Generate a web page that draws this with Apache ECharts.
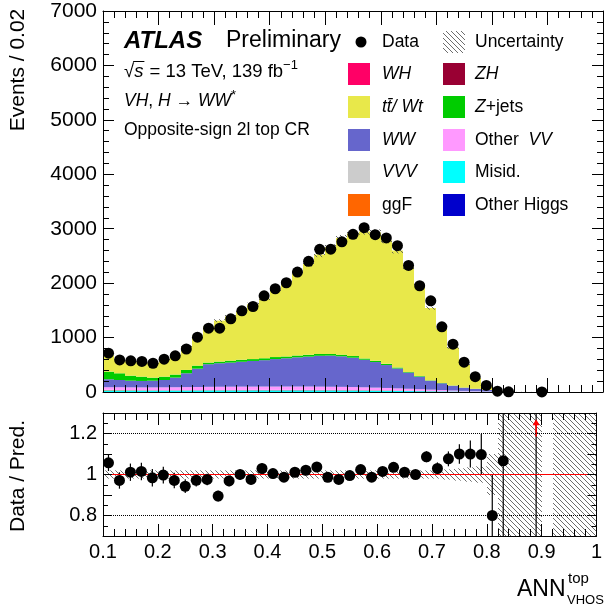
<!DOCTYPE html>
<html>
<head>
<meta charset="utf-8">
<title>ANN top CR</title>
<script src="https://cdn.jsdelivr.net/npm/echarts@6.0.0/dist/echarts.min.js"></script>
<style>
html, body { margin: 0; padding: 0; background: #ffffff; }
#chart { width: 605px; height: 608px; }
</style>
</head>
<body>
<div id="chart"></div>
<script>
// ANN_VHOS^top score, bins of width 0.02
const binEdges = [0.10,0.12,0.14,0.16,0.18,0.20,0.22,0.24,0.26,0.28,0.30,0.32,0.34,0.36,0.38,0.40,0.42,0.44,0.46,0.48,
                  0.50,0.52,0.54,0.56,0.58,0.60,0.62,0.64,0.66,0.68,0.70,0.72,0.74,0.76,0.78,0.80,0.82,0.84,0.86,0.88,
                  0.90,0.92,0.94,0.96,0.98,1.00];

// Observed events per bin (null = empty bin)
const dataEvents = [713,589,573,562,528,602,665,790,1007,1173, 1173,1344,1492,1571,1768,1897,2007,2204,2400,2621,
                    2625,2760,2897,3020,2891,2830,2689,2326,1952,1676, 1197,878,547,282,120,16,4,null,null,1,
                    null,null,null,null,null];

// Predicted yields, stacked bottom to top
const misid = [28,27,26,25,25,25,26,26,27,28, 28,28,28,29,29,29,29,29,29,28, 28,27,26,25,23,21,19,17,15,12,
               10,8,6,4,3,1,0.3,0.2,0.1,0.05, 0,0.03,0.03,0.03,0.03];
const otherHiggs = [2,2,2,2,2,2,2,2,2,2, 2,2,2,2,2,2,2,2,2,2, 2,2,2,2,2,2,2,2,1.5,1.5,
                    1,1,0.8,0.5,0.3,0.1,0.05,0,0,0, 0,0,0,0,0];
const ggF = [8,6,5,4,4,3,3,3,3,3, 3,3,3,3,3,3,3,3,3,3, 3,3,3,3,3,3,2,2,2,2,
             1,1,1,0.5,0.3,0.1,0.05,0,0,0, 0,0,0,0,0];
const zh = [0.2,0.2,0.2,0.2,0.2,0.2,0.2,0.3,0.3,0.3, 0.3,0.4,0.4,0.4,0.4,0.5,0.5,0.5,0.5,0.6,
            0.6,0.6,0.6,0.6,0.5,0.5,0.5,0.4,0.4,0.3, 0.2,0.2,0.1,0.1,0.05,0,0,0,0,0, 0,0,0,0,0];
const wh = [0.5,0.5,0.5,0.5,0.5,0.5,0.6,0.7,0.8,0.9, 1.0,1.1,1.2,1.3,1.4,1.5,1.6,1.7,1.8,1.9,
            2.0,2.0,2.0,1.9,1.8,1.7,1.5,1.3,1.1,0.9, 0.7,0.5,0.4,0.3,0.2,0.1,0.05,0,0,0, 0,0,0,0,0];
const vvv = [2,2,2,2,2,2,2,2,2,3, 3,3,3,3,3,3,3,3,3,3, 3,3,3,3,3,3,3,3,2,2,
             2,2,1,1,0.5,0.2,0.1,0,0,0, 0,0,0,0,0];
const otherVV = [47,50,50,51,51,53,54,56,57,58, 59,60,61,60,61,61,61,61,61,60, 58,57,54,51,47,43,39,34,30,25,
                 21,15,11,8,5,1.5,0.5,0.3,0.2,0.1, 0,0.03,0.03,0.03,0.03];
const ww = [146,133,122,118,123,135,177,254,337,415, 432,443,457,472,485,505,520,537,550,567,
            572,561,540,506,470,421,365,298,230,164, 124,88,59,44,29,6,1.5,0.8,0.4,0.1, 0,0.05,0.05,0.05,0.05];
const zjets = [140,123,92,79,56,61,55,61,55,30, 30,35,37,34,35,37,32,33,33,33,
               30,30,30,23,22,22,18,12,10,6, 5,3,2,1,1,0.5,0.2,0.1,0.05,0, 0,0,0,0,0];
const ttbar = [301,263,267,272,273,322,365,433,552,662, 753,812,899,1005,1098,1246,1381,1510,1668,1830,
               1962,2143,2252,2334,2357,2271,2148,1931,1660,1329, 998,697,416,197,70,10.5,1.0,0.6,0.3,0.1,
               0,0.05,0.05,0.05,0.05];

// Relative uncertainty of the total prediction
const relUnc = [0.02,0.02,0.02,0.02,0.02,0.02,0.02,0.02,0.02,0.02, 0.02,0.02,0.02,0.02,0.02,0.02,0.02,0.02,0.02,0.02,
                0.02,0.02,0.02,0.02,0.02,0.02,0.02,0.02,0.02,0.02, 0.02,0.025,0.03,0.035,0.04,0.1,0.3,0.8,0.8,0.8,
                0,0.8,0.8,0.8,0.8];

const colors = {
  misid: '#00ffff', otherHiggs: '#0000cc', ggF: '#ff6600', zh: '#990033', wh: '#ff0066',
  vvv: '#cccccc', otherVV: '#ff99ff', ww: '#6666cc', zjets: '#00cc00', ttbar: '#e8e84a'
};

const stack = [
  { key: 'misid', name: 'Misid.', values: misid },
  { key: 'otherHiggs', name: 'Other Higgs', values: otherHiggs },
  { key: 'ggF', name: 'ggF', values: ggF },
  { key: 'zh', name: 'ZH', values: zh },
  { key: 'wh', name: 'WH', values: wh },
  { key: 'vvv', name: 'VVV', values: vvv },
  { key: 'otherVV', name: 'Other VV', values: otherVV },
  { key: 'ww', name: 'WW', values: ww },
  { key: 'zjets', name: 'Z+jets', values: zjets },
  { key: 'ttbar', name: 'tt/Wt', values: ttbar }
];

const FONT = '"Liberation Sans", Arimo, Helvetica, Arial, sans-serif';
const nBins = binEdges.length - 1;
const RMIN = 0.7, RMAX = 1.3;

const totalPred = [];
for (let i = 0; i < nBins; i++) {
  let s = 0;
  for (const c of stack) s += c.values[i];
  totalPred.push(s);
}
const centre = i => (binEdges[i] + binEdges[i + 1]) / 2;

// Diagonal hatch used for the uncertainty band
function makeHatch() {
  const s = 5;
  const c = document.createElement('canvas');
  c.width = s; c.height = s;
  const g = c.getContext('2d');
  g.strokeStyle = '#5c5c5c';
  g.lineWidth = 0.9;
  g.beginPath();
  for (let k = -1; k <= 1; k++) { g.moveTo(k * s, 0); g.lineTo(k * s + s, s); }
  g.stroke();
  return c;
}
const hatchFill = { image: makeHatch(), repeat: 'repeat' };

// Rectangle for [xLow, xHigh, yLow, yHigh] items; bin edges snapped to whole pixels
function rectRenderer(fill) {
  return function (params, api) {
    const lo = api.coord([api.value(0), api.value(2)]);
    const hi = api.coord([api.value(1), api.value(3)]);
    const x0 = Math.round(lo[0]), x1 = Math.round(hi[0]);
    const yb = lo[1], yt = hi[1];
    if (yb - yt <= 0.05 || x1 - x0 <= 0) return { type: 'group', children: [] };
    return { type: 'rect', shape: { x: x0, y: yt, width: x1 - x0, height: yb - yt }, style: { fill: fill } };
  };
}

function errorRenderer(params, api) {
  const a = api.coord([api.value(0), api.value(1)]);
  const b = api.coord([api.value(0), api.value(2)]);
  return { type: 'line', shape: { x1: a[0], y1: a[1], x2: b[0], y2: b[1] }, style: { stroke: '#000', lineWidth: 1.2 } };
}

function arrowRenderer(params, api) {
  const a = api.coord([api.value(0), api.value(1)]);
  const b = api.coord([api.value(0), api.value(2)]);
  return {
    type: 'group',
    children: [
      { type: 'line', shape: { x1: a[0], y1: a[1], x2: b[0], y2: b[1] + 5 }, style: { stroke: '#ff0000', lineWidth: 1.6 } },
      { type: 'polygon', shape: { points: [[b[0] - 3.5, b[1] + 6], [b[0] + 3.5, b[1] + 6], [b[0], b[1]]] }, style: { fill: '#ff0000' } }
    ]
  };
}

const series = [];

// Stacked predictions
const cum = new Array(nBins).fill(0);
stack.forEach(c => {
  const rows = [];
  for (let i = 0; i < nBins; i++) {
    rows.push([binEdges[i], binEdges[i + 1], cum[i], cum[i] + c.values[i]]);
    cum[i] += c.values[i];
  }
  series.push({
    type: 'custom', name: c.name, xAxisIndex: 0, yAxisIndex: 0, silent: true, z: 1,
    encode: { x: [0, 1], y: [2, 3] }, renderItem: rectRenderer(colors[c.key]), data: rows
  });
});

// Uncertainty band on top of the stack
const mainBand = [];
for (let i = 0; i < nBins; i++) {
  if (totalPred[i] > 0 && relUnc[i] > 0) {
    mainBand.push([binEdges[i], binEdges[i + 1], totalPred[i] * (1 - relUnc[i]), totalPred[i] * (1 + relUnc[i])]);
  }
}
series.push({
  type: 'custom', name: 'Uncertainty', xAxisIndex: 0, yAxisIndex: 0, silent: true, z: 2,
  encode: { x: [0, 1], y: [2, 3] }, renderItem: rectRenderer(hatchFill), data: mainBand
});

// Data with Poisson errors
const mainPts = [], mainErr = [];
for (let i = 0; i < nBins; i++) {
  const d = dataEvents[i];
  if (d === null) continue;
  mainPts.push([centre(i), d]);
  mainErr.push([centre(i), Math.max(0, d - Math.sqrt(d)), d + Math.sqrt(d)]);
}
series.push({
  type: 'custom', xAxisIndex: 0, yAxisIndex: 0, silent: true, z: 4,
  encode: { x: 0, y: [1, 2] }, renderItem: errorRenderer, data: mainErr
});
series.push({
  type: 'scatter', name: 'Data', xAxisIndex: 0, yAxisIndex: 0, silent: true, z: 5, clip: false,
  symbol: 'circle', symbolSize: 11, itemStyle: { color: '#000', opacity: 1 }, data: mainPts
});

// Ratio panel
const ratioBand = [], ratioPts = [], ratioErr = [], ratioArrows = [];
for (let i = 0; i < nBins; i++) {
  const t = totalPred[i];
  if (t > 0 && relUnc[i] > 0) {
    ratioBand.push([binEdges[i], binEdges[i + 1], Math.max(RMIN, 1 - relUnc[i]), Math.min(RMAX, 1 + relUnc[i])]);
  }
  const d = dataEvents[i];
  if (d === null || !(t > 0)) continue;
  const r = d / t, e = Math.sqrt(d) / t;
  ratioErr.push([centre(i), Math.max(RMIN, r - e), Math.min(RMAX, r + e)]);
  if (r > RMAX) ratioArrows.push([centre(i), 1.185, 1.27]);
  else if (r >= RMIN) ratioPts.push([centre(i), r]);
}
series.push({
  type: 'custom', xAxisIndex: 2, yAxisIndex: 2, silent: true, z: 2,
  encode: { x: [0, 1], y: [2, 3] }, renderItem: rectRenderer(hatchFill), data: ratioBand,
  markLine: {
    silent: true, symbol: ['none', 'none'], label: { show: false }, animation: false,
    data: [
      { yAxis: 0.8, lineStyle: { type: 'dotted', color: '#000', width: 1 } },
      { yAxis: 1.2, lineStyle: { type: 'dotted', color: '#000', width: 1 } },
      { yAxis: 1.0, lineStyle: { type: 'solid', color: '#ff0000', width: 1.2 } }
    ]
  }
});
series.push({
  type: 'custom', xAxisIndex: 2, yAxisIndex: 2, silent: true, z: 4,
  encode: { x: 0, y: [1, 2] }, renderItem: errorRenderer, data: ratioErr
});
series.push({
  type: 'custom', xAxisIndex: 2, yAxisIndex: 2, silent: true, z: 4,
  encode: { x: 0, y: [1, 2] }, renderItem: arrowRenderer, data: ratioArrows
});
series.push({
  type: 'scatter', xAxisIndex: 2, yAxisIndex: 2, silent: true, z: 5, clip: false,
  symbol: 'circle', symbolSize: 11, itemStyle: { color: '#000', opacity: 1 }, data: ratioPts
});

// Axes
const black = { color: '#000', width: 1 };
function xAxisDef(grid, pos, labels) {
  return {
    type: 'value', gridIndex: grid, position: pos, min: 0.1, max: 1.0, interval: 0.1, z: 10,
    axisLine: { show: true, onZero: false, lineStyle: black },
    axisTick: { show: true, inside: true, length: grid === 0 ? 14 : 12, lineStyle: black },
    minorTick: { show: true, splitNumber: 5, length: 7, lineStyle: black },
    splitLine: { show: false }, minorSplitLine: { show: false },
    axisLabel: {
      show: labels, color: '#000', fontSize: 20, fontFamily: FONT, margin: 6,
      showMinLabel: true, showMaxLabel: true, hideOverlap: false,
      alignMinLabel: 'center', alignMaxLabel: 'center',
      formatter: v => String(+v.toFixed(2))
    }
  };
}
function yMainDef(pos, labels) {
  return {
    type: 'value', gridIndex: 0, position: pos, min: 0, max: 7000, interval: 1000, z: 10,
    axisLine: { show: true, onZero: false, lineStyle: black },
    axisTick: { show: true, inside: true, length: 11, lineStyle: black },
    minorTick: { show: true, splitNumber: 5, length: 6, lineStyle: black },
    splitLine: { show: false }, minorSplitLine: { show: false },
    axisLabel: { show: labels, color: '#000', fontSize: 21, fontFamily: FONT, margin: 6, formatter: v => String(Math.round(v)) }
  };
}
function yRatioDef(pos, labels) {
  return {
    type: 'value', gridIndex: 1, position: pos, min: RMIN, max: RMAX, interval: 0.1, z: 10,
    axisLine: { show: true, onZero: false, lineStyle: black },
    axisTick: { show: true, inside: true, length: 9, lineStyle: black },
    minorTick: { show: true, splitNumber: 2, length: 5, lineStyle: black },
    splitLine: { show: false }, minorSplitLine: { show: false },
    axisLabel: {
      show: labels, color: '#000', fontSize: 20, fontFamily: FONT, margin: 6,
      formatter: v => { const r = Math.round(v * 10) / 10; return (r === 0.8 || r === 1 || r === 1.2) ? String(r) : ''; }
    }
  };
}

// Text helpers
const mctx = document.createElement('canvas').getContext('2d');
function textWidth(t, size, italic, bold) {
  mctx.font = (italic ? 'italic ' : '') + (bold ? 'bold ' : '') + size + 'px ' + FONT;
  return mctx.measureText(t).width;
}
function textRun(x, y, parts, baseSize) {
  const out = [];
  let cx = x;
  parts.forEach(p => {
    const size = p.size || baseSize;
    out.push({
      type: 'text', x: cx, y: y + (p.dy || 0), silent: true, z: 100,
      style: {
        text: p.t, fontSize: size, fontFamily: FONT, fontStyle: p.italic ? 'italic' : 'normal',
        fontWeight: p.bold ? 'bold' : 'normal', fill: '#000', align: 'left', verticalAlign: 'middle'
      }
    });
    cx += textWidth(p.t, size, p.italic, p.bold) + (p.gap || 0);
  });
  return out;
}

const graphic = [];
const T = 17.5;

// Labels in the top-left corner
graphic.push(...textRun(124, 41, [{ t: 'ATLAS', italic: true, bold: true, size: 24 }], 24));
graphic.push(...textRun(226, 41, [{ t: 'Preliminary', size: 23 }], 23));
const L2 = 18.5;
graphic.push(...textRun(124, 72, [
  { t: '\u221A' }, { t: 's', italic: true, gap: 1 }, { t: ' = 13 TeV, 139 fb' }, { t: '\u22121', size: 13, dy: -7 }
], L2));
{
  const xs = 124 + textWidth('\u221A', L2, false, false);
  const ws = textWidth('s', L2, true, false);
  graphic.push({ type: 'line', silent: true, z: 100, shape: { x1: xs - 1, y1: 61.5, x2: xs + ws + 1, y2: 61.5 }, style: { stroke: '#000', lineWidth: 1 } });
}
graphic.push(...textRun(124, 101, [
  { t: 'VH', italic: true }, { t: ', ' }, { t: 'H', italic: true }, { t: ' \u2192 ' }, { t: 'WW', italic: true },
  { t: '*', size: 13, dy: -6 }
], T));
graphic.push(...textRun(124, 130, [{ t: 'Opposite-sign 2l top CR' }], T));

// Legend
const rowsY = [42, 74, 107, 140, 172, 205];
const legendLeft = [
  { marker: true, parts: [{ t: 'Data' }] },
  { key: 'wh', parts: [{ t: 'WH', italic: true }] },
  { key: 'ttbar', parts: [{ t: 'tt\u0304/ Wt', italic: true }] },
  { key: 'ww', parts: [{ t: 'WW', italic: true }] },
  { key: 'vvv', parts: [{ t: 'VVV', italic: true }] },
  { key: 'ggF', parts: [{ t: 'ggF' }] }
];
const legendRight = [
  { hatch: true, parts: [{ t: 'Uncertainty' }] },
  { key: 'zh', parts: [{ t: 'ZH', italic: true }] },
  { key: 'zjets', parts: [{ t: 'Z', italic: true }, { t: '+jets' }] },
  { key: 'otherVV', parts: [{ t: 'Other  ' }, { t: 'VV', italic: true }] },
  { key: 'misid', parts: [{ t: 'Misid.' }] },
  { key: 'otherHiggs', parts: [{ t: 'Other Higgs' }] }
];
function legendColumn(entries, boxX, textX) {
  entries.forEach((e, r) => {
    const y = rowsY[r];
    if (e.marker) {
      graphic.push({ type: 'circle', silent: true, z: 100, shape: { cx: boxX + 13, cy: y, r: 5.5 }, style: { fill: '#000' } });
    } else if (e.hatch) {
      graphic.push({ type: 'rect', silent: true, z: 100, shape: { x: boxX, y: y - 11, width: 22, height: 22 }, style: { fill: hatchFill } });
    } else {
      graphic.push({ type: 'rect', silent: true, z: 100, shape: { x: boxX, y: y - 11, width: 22, height: 22 }, style: { fill: colors[e.key] } });
    }
    graphic.push(...textRun(textX, y, e.parts, T));
  });
}
legendColumn(legendLeft, 348, 382);
legendColumn(legendRight, 443, 475);

// Axis titles
graphic.push({
  type: 'text', x: 18, y: 70, rotation: Math.PI / 2, silent: true, z: 100,
  style: { text: 'Events / 0.02', fontSize: 21, fontFamily: FONT, fill: '#000', align: 'center', verticalAlign: 'middle' }
});
graphic.push({
  type: 'text', x: 18, y: 476, rotation: Math.PI / 2, silent: true, z: 100,
  style: { text: 'Data / Pred.', fontSize: 21, fontFamily: FONT, fill: '#000', align: 'center', verticalAlign: 'middle' }
});
graphic.push(...textRun(517, 590, [{ t: 'ANN' }], 23));
graphic.push(...textRun(568, 579, [{ t: 'top' }], 15));
graphic.push(...textRun(567, 600, [{ t: 'VHOS' }], 13));

const chart = echarts.init(document.getElementById('chart'), null, { renderer: 'canvas' });
chart.setOption({
  animation: false,
  backgroundColor: '#ffffff',
  textStyle: { fontFamily: FONT },
  grid: [
    { left: 103, top: 11, width: 500, height: 381, show: false },
    { left: 103, top: 413, width: 500, height: 123, show: false }
  ],
  xAxis: [xAxisDef(0, 'bottom', false), xAxisDef(0, 'top', false), xAxisDef(1, 'bottom', true), xAxisDef(1, 'top', false)],
  yAxis: [yMainDef('left', true), yMainDef('right', false), yRatioDef('left', true), yRatioDef('right', false)],
  series: series,
  graphic: graphic
});
</script>
</body>
</html>
